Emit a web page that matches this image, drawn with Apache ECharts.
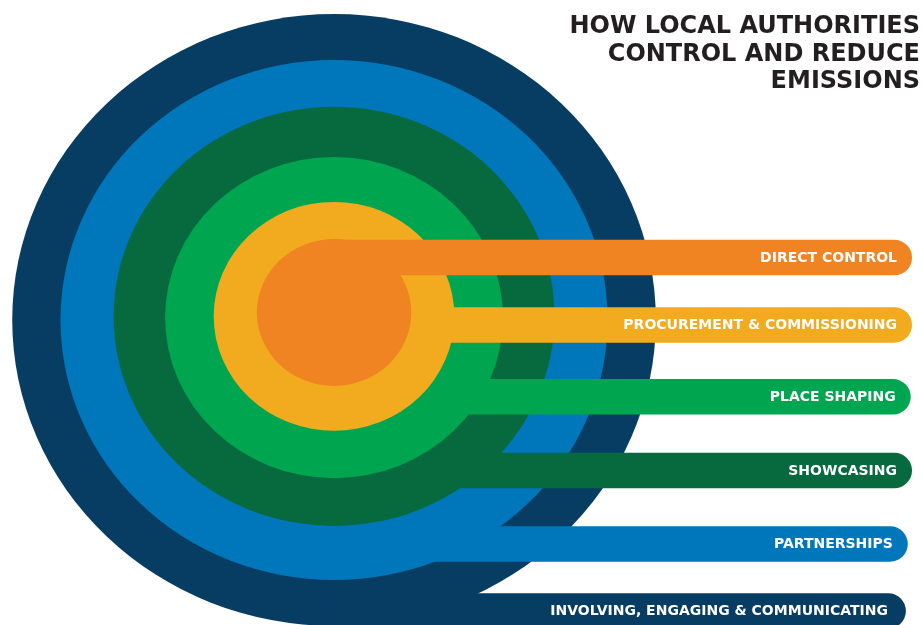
<!DOCTYPE html>
<html><head><meta charset="utf-8">
<script src="https://cdn.jsdelivr.net/npm/echarts@6/dist/echarts.min.js"></script>
<style>html,body{margin:0;padding:0;background:#fff}#chart{width:922px;height:625px}</style>
</head><body><div id="chart"></div>
<script>
// Levels, outermost first (drawn first so inner levels sit on top)
const levels = ['INVOLVING, ENGAGING & COMMUNICATING', 'PARTNERSHIPS', 'SHOWCASING', 'PLACE SHAPING', 'PROCUREMENT & COMMISSIONING', 'DIRECT CONTROL'];
// Ring radius (units, outer ring = 100)
const ringRadius = [100, 85, 68.5, 52.5, 37.4, 24.0];
// Vertical position of each ring's centre (units, downward positive)
const ringCentre = [1.0, 1.0, -0.2, 0.2, -0.2, -1.45];
// Vertical offset of each level's bar centre (units, downward positive)
const barOffset = [96.1, 74.2, 50.2, 26.1, 2.6, -19.4];
// How far each bar reaches to the right of the centre (units)
const barReach = [177.7, 178.3, 179.6, 179.2, 179.6, 179.6];
// Bar half-thickness (units)
const barHalf = [5.8, 5.8, 5.8, 5.8, 5.8, 5.8];
const colors = ['#073d63', '#0077bb', '#066a3e', '#00a54f', '#f2ab1f', '#f08423'];
const titleLines = ['HOW LOCAL AUTHORITIES', 'CONTROL AND REDUCE', 'EMISSIONS'];

const FONT = '"DejaVu Sans", sans-serif';
const chart = echarts.init(document.getElementById('chart'), null, {renderer: 'canvas'});
const data = levels.map((name, i) => ({name: name, value: [ringRadius[i], barOffset[i], barReach[i], barHalf[i], ringCentre[i]]}));
const W = chart.getWidth();

chart.setOption({
  animation: false,
  backgroundColor: '#ffffff',
  graphic: [{
    type: 'text', x: W - 2, y: 13.5, z: 10,
    style: {text: titleLines.join('\n'), fontFamily: FONT, fontWeight: 'bold', fontSize: 24, lineHeight: 27.5,
            fill: '#231f20', align: 'right', verticalAlign: 'top'}
  }],
  grid: {left: 0, right: 0, top: 0, bottom: 0},
  xAxis: {type: 'value', min: -103.8, max: 182.7, show: false},
  yAxis: {type: 'value', inverse: true, min: -103.6, max: 100.7, show: false},
  series: [{
    type: 'custom',
    clip: false,
    data: data,
    renderItem: function (params, api) {
      const i = params.dataIndex;
      const r = api.value(0), yc = api.value(1), reach = api.value(2), hh = api.value(3), cy = api.value(4);
      const c = api.coord([0, cy]);
      const s = api.size([r, r]);
      const rx = Math.abs(s[0]), ry = Math.abs(s[1]);
      const tl = api.coord([0, yc - hh]);
      const br = api.coord([reach, yc + hh]);
      const h = br[1] - tl[1];
      const color = colors[i];
      const pad = i === 0 ? 18 : 15;
      return {
        type: 'group',
        children: [
          {type: 'circle', x: c[0], y: c[1], scaleX: rx / ry, shape: {cx: 0, cy: 0, r: ry}, style: {fill: color}},
          {type: 'rect', shape: {x: tl[0], y: tl[1], width: br[0] - tl[0], height: h, r: [0, h / 2, h / 2, 0]}, style: {fill: color}},
          {type: 'text', x: br[0] - pad, y: (tl[1] + br[1]) / 2 + 0.5,
           style: {text: levels[i], fill: '#ffffff', fontFamily: FONT, fontWeight: 'bold', fontSize: 14, align: 'right', verticalAlign: 'middle'}}
        ]
      };
    }
  }]
});
</script>
</body></html>
